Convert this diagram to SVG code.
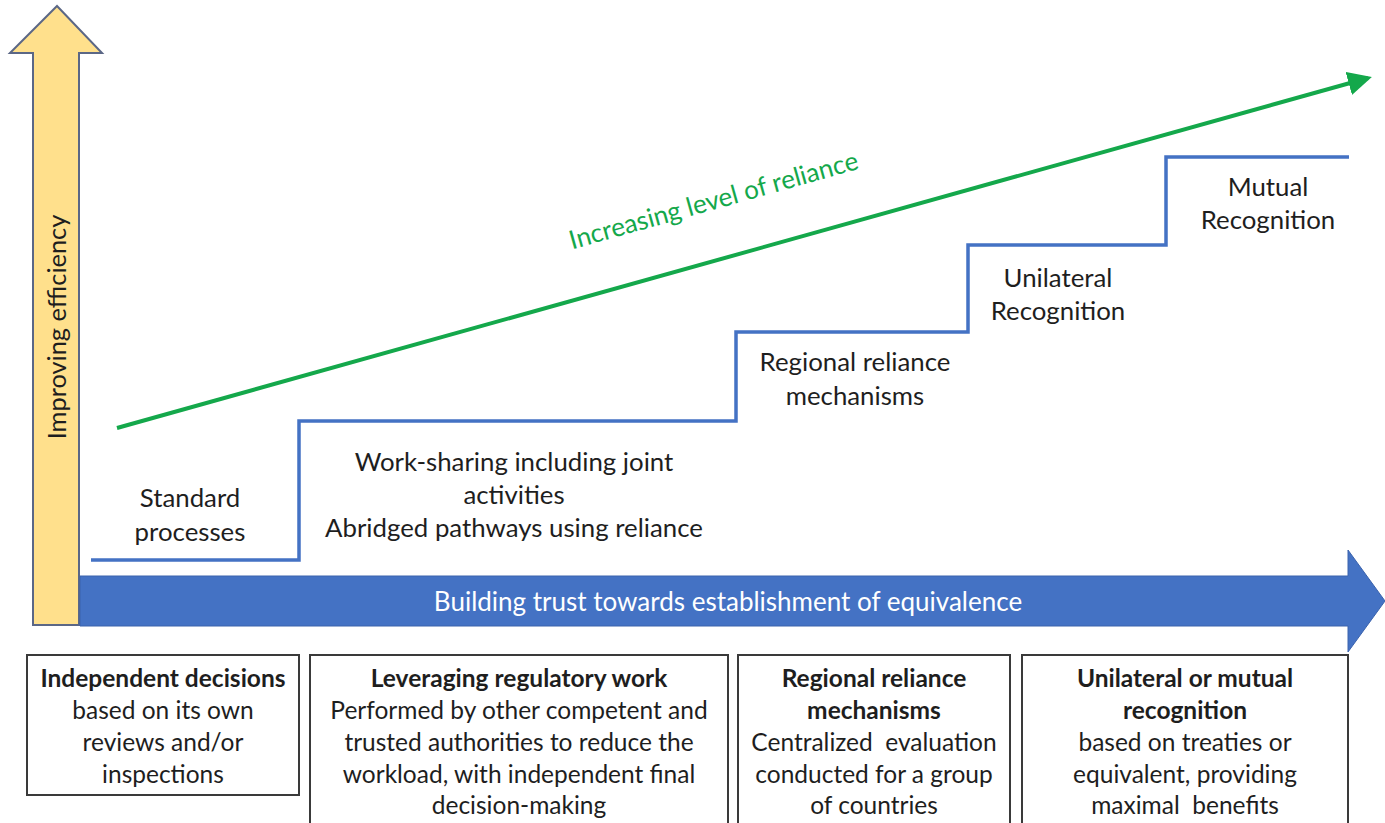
<svg xmlns="http://www.w3.org/2000/svg" width="1385" height="823" viewBox="0 0 1385 823">
<defs>
<style>
.t{font-family:Lato,"Liberation Sans",sans-serif;font-size:25.8px;fill:#1e1e1e;text-anchor:middle;white-space:pre}
.bx{font-size:24.5px}
.b{font-weight:bold}
.box{fill:#fff;stroke:#3a3a3a;stroke-width:2}
.step{fill:none;stroke:#4472c4;stroke-width:3.5}
</style>
<marker id="gh" markerWidth="6" markerHeight="6" refX="5" refY="3" orient="auto" markerUnits="strokeWidth">
<path d="M0,0 L6,3 L0,6 Z" fill="#14a84b"/>
</marker>
</defs>
<rect width="1385" height="823" fill="#fff"/>
<g id="yellow-axis">
<path d="M33,625 L33,53 L10,53 L57,6 L102,53 L79,53 L79,625 Z" fill="#ffe08c" stroke="#5b6786" stroke-width="2"/>
<text class="t" transform="translate(66,327) rotate(-90)" style="font-size:25.4px">Improving efficiency</text>
</g>
<g id="blue-axis">
<path d="M80,576 L1348,576 L1348,550 L1385,601 L1348,652 L1348,626 L80,626 Z" fill="#4472c4" stroke="#3a62ac" stroke-width="1"/>
<text class="t" x="728" y="611" style="fill:#fff;font-size:26px">Building trust towards establishment of equivalence</text>
</g>
<g id="connectors">
<line x1="117" y1="428" x2="1368" y2="78" stroke="#14a84b" stroke-width="4" marker-end="url(#gh)"/>
<path class="step" d="M91,560 L299,560 L299,421 L736,421 L736,332 L968,332 L968,245 L1166,245 L1166,157 L1349,157"/>
</g>
<g id="reliance-label">
<text class="t" transform="translate(716,209) rotate(-15.7)" style="fill:#14a84b;font-size:26px">Increasing level of reliance</text>
</g>
<g id="step1"><text class="t" x="190" y="507">Standard</text><text class="t" x="190" y="541">processes</text></g>
<g id="step2"><text class="t" x="514" y="471">Work-sharing including joint</text><text class="t" x="514" y="504">activities</text><text class="t" x="514" y="537">Abridged pathways using reliance</text></g>
<g id="step3"><text class="t" x="855" y="371">Regional reliance</text><text class="t" x="855" y="405">mechanisms</text></g>
<g id="step4"><text class="t" x="1058" y="287">Unilateral</text><text class="t" x="1058" y="320">Recognition</text></g>
<g id="step5"><text class="t" x="1268" y="196">Mutual</text><text class="t" x="1268" y="229">Recognition</text></g>
<g id="box1">
<rect class="box" x="27" y="655" width="272" height="140"/>
<text class="t bx b" x="163" y="687">Independent decisions</text>
<text class="t bx" x="163" y="719">based on its own</text>
<text class="t bx" x="163" y="751">reviews and/or</text>
<text class="t bx" x="163" y="783">inspections</text>
</g>
<g id="box2">
<rect class="box" x="310" y="655" width="418" height="180"/>
<text class="t bx b" x="519" y="687">Leveraging regulatory work</text>
<text class="t bx" x="519" y="719">Performed by other competent and</text>
<text class="t bx" x="519" y="751">trusted authorities to reduce the</text>
<text class="t bx" x="519" y="783">workload, with independent final</text>
<text class="t bx" x="519" y="814">decision-making</text>
</g>
<g id="box3">
<rect class="box" x="738" y="655" width="272" height="180"/>
<text class="t bx b" x="874" y="687">Regional reliance</text>
<text class="t bx b" x="874" y="719">mechanisms</text>
<text class="t bx" x="874" y="751">Centralized  evaluation</text>
<text class="t bx" x="874" y="783">conducted for a group</text>
<text class="t bx" x="874" y="814">of countries</text>
</g>
<g id="box4">
<rect class="box" x="1022" y="655" width="326" height="180"/>
<text class="t bx b" x="1185" y="687">Unilateral or mutual</text>
<text class="t bx b" x="1185" y="719">recognition</text>
<text class="t bx" x="1185" y="751">based on treaties or</text>
<text class="t bx" x="1185" y="783">equivalent, providing</text>
<text class="t bx" x="1185" y="814">maximal  benefits</text>
</g>
</svg>
